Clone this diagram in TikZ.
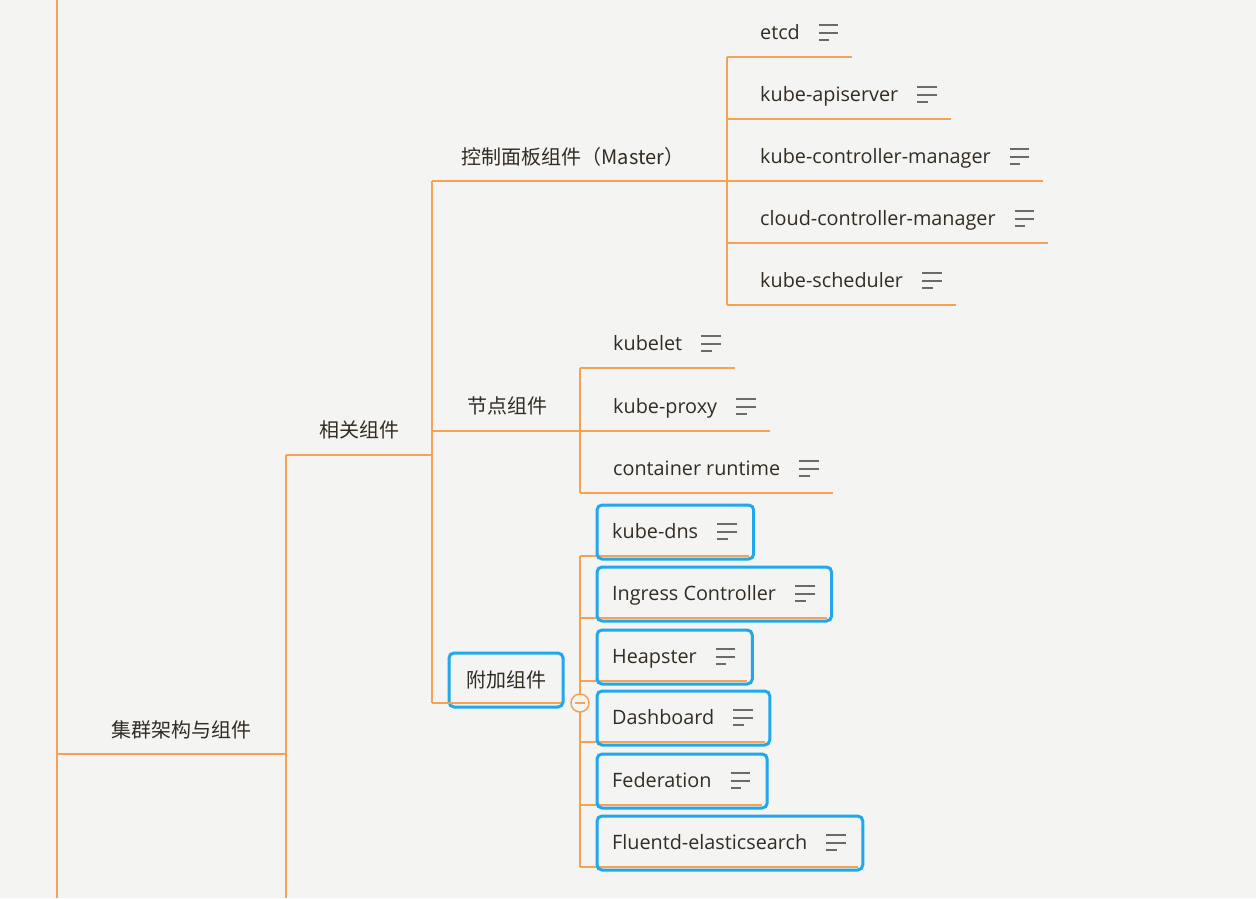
\documentclass[tikz,border=0pt]{standalone}
\usepackage{fontspec}
\setmainfont{Open Sans}
\newfontfamily\cjk{Noto Sans CJK SC}
\usetikzlibrary{positioning,calc}
\definecolor{bgc}{HTML}{F4F4F2}
\definecolor{brc}{HTML}{F5A352}
\definecolor{bluec}{HTML}{1FA8EC}
\definecolor{txtc}{HTML}{332C22}
\definecolor{icc}{HTML}{6B6B6B}
\tikzset{
  branch/.style={draw=brc, line width=2pt},
  lbl/.style={anchor=west, inner sep=0pt, text=txtc, text height=14pt, text depth=5pt, font=\fontsize{19.8}{22}\selectfont},
  cjklbl/.style={inner sep=0pt, text=txtc, font=\cjk\fontsize{20}{24}\selectfont},
  iconbox/.style={inner sep=0pt, minimum width=19pt, minimum height=14pt},
  iconln/.style={draw=icc, line width=2pt},
  addbox/.style={draw=bluec, line width=3pt, rounded corners=5pt},
  collapse/.style={circle, draw=brc, fill=bgc, line width=1.5pt, minimum size=18pt, inner sep=0pt},
}
\newcommand\leafnode[4]{%
  \node[lbl] (#1) at (#2+33,#3+2) {#4};
  \node[iconbox, right=19pt of #1, yshift=2.5pt] (#1i) {};
  \draw[iconln] (#1i.north west) -- (#1i.north east) (#1i.west) -- (#1i.east) (#1i.south west) -- ([xshift=-9pt]#1i.south east);
  \coordinate (#1u) at ([xshift=14pt]#1i.east);
  \coordinate (#1v) at (#2,#3+24);
  \draw[branch] (#1v) -- (#1u |- #1v);
}
\newcommand\boxleaf[4]{%
  \node[lbl] (#1) at (#2+32,#3+2) {#4};
  \node[iconbox, right=19pt of #1, yshift=2.5pt] (#1i) {};
  \draw[iconln] (#1i.north west) -- (#1i.north east) (#1i.west) -- (#1i.east) (#1i.south west) -- ([xshift=-9pt]#1i.south east);
  \coordinate (#1u) at ([xshift=12pt]#1i.east);
  \coordinate (#1v) at (#2,#3+24);
  \coordinate (#1bl) at (#2+17,#3+27);
  \coordinate (#1tr) at ([xshift=17pt]#1i.east |- 0,#3-27);
  \draw[branch] (#1v) -- (#1u |- #1v);
  \draw[addbox] (#1bl) rectangle (#1tr);
}
\begin{document}
\begin{tikzpicture}[x=1pt,y=-1pt]
\fill[bgc] (0,0) rectangle (1256,898);
\useasboundingbox (0,0) rectangle (1256,898);

% root and level 1
\coordinate (rootT) at (57,0);
\coordinate (rootB) at (57,898);
\draw[branch] (rootT) -- (rootB);
\node[cjklbl] (jq) at (181,730) {集群架构与组件};
\coordinate (jqL) at (57,754);
\coordinate (jqR) at (286,754);
\coordinate (jqB) at (286,898);
\draw[branch] (jqL) -- (jqR);
\coordinate (xgT) at (286,455);
\draw[branch] (xgT) -- (jqB);

% 相关组件
\node[cjklbl] (xg) at (359,430) {相关组件};
\coordinate (xgR) at (432,455);
\draw[branch] (xgT) -- (xgR);
\coordinate (v2T) at (432,181);
\coordinate (v2B) at (432,703);
\draw[branch] (v2T) -- (v2B);

% 控制面板组件
\node[cjklbl] (kz) at (573,157) {控制面板组件（Master）};
\coordinate (kzR) at (727,181);
\draw[branch] (v2T) -- (kzR);
\coordinate (v3T) at (727,57);
\coordinate (v3B) at (727,305);
\draw[branch] (v3T) -- (v3B);
\leafnode{etcd}{727}{33}{etcd}
\leafnode{api}{727}{95}{kube-apiserver}
\leafnode{kcm}{727}{157}{kube-controller-manager}
\leafnode{ccm}{727}{219}{cloud-controller-manager}
\leafnode{sch}{727}{281}{kube-scheduler}

% 节点组件
\node[cjklbl] (jd) at (507,406) {节点组件};
\coordinate (jdL) at (432,431);
\coordinate (jdR) at (580,431);
\draw[branch] (jdL) -- (jdR);
\coordinate (v4T) at (580,368);
\coordinate (v4B) at (580,493);
\draw[branch] (v4T) -- (v4B);
\leafnode{klt}{580}{344}{kubelet}
\leafnode{kpx}{580}{407}{kube-proxy}
\leafnode{crt}{580}{469}{container runtime}

% 附加组件
\node[cjklbl, draw=bluec, line width=3pt, rounded corners=5pt, minimum width=114pt, minimum height=54pt] (fj) at (506,680) {附加组件};
\coordinate (fjL) at (432,703);
\coordinate (fjR) at (561,703);
\draw[branch] (fjL) -- (fjR);
\coordinate (v5T) at (580,556);
\coordinate (v5B) at (580,867);
\draw[branch] (v5T) -- (v5B);
\boxleaf{kdns}{580}{532}{kube-dns}
\boxleaf{ing}{580}{594}{Ingress Controller}
\boxleaf{hps}{580}{657}{Heapster}
\boxleaf{dsb}{580}{718}{Dashboard}
\boxleaf{fed}{580}{781}{Federation}
\boxleaf{flu}{580}{843}{Fluentd-elasticsearch}
\node[collapse] (col) at (580,703) {};
\draw[draw=brc, line width=1.5pt] ([xshift=-5pt]col.center) -- ([xshift=5pt]col.center);
\end{tikzpicture}
\end{document}
